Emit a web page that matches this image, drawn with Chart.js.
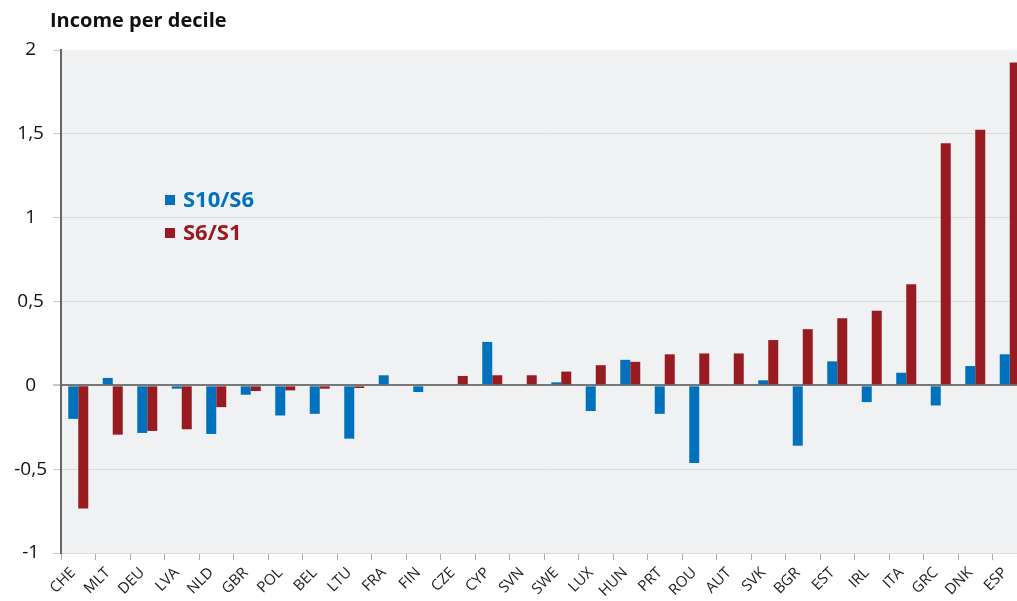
<!DOCTYPE html>
<html lang="en">
<head>
    <meta charset="UTF-8">
    <title>Income per decile</title>
    <script src="https://cdn.jsdelivr.net/npm/chart.js"></script>
    <style>
        html, body { margin: 0; padding: 0; background: #fff; overflow: hidden; width: 1017px; height: 601px; }
        .title {
            position: absolute; left: 50px; top: 6px;
            font: bold 20px "Open Sans", sans-serif; color: #111;
        }
        .chart-container { position: absolute; left: 0; top: 0; width: 1030px; height: 601px; }
    </style>
</head>
<body>
    <div class="chart-container"><canvas id="chart"></canvas></div>
    <div class="title">Income per decile</div>

    <script>
        const countries = ['CHE', 'MLT', 'DEU', 'LVA', 'NLD', 'GBR', 'POL', 'BEL', 'LTU', 'FRA', 'FIN', 'CZE', 'CYP', 'SVN',
            'SWE', 'LUX', 'HUN', 'PRT', 'ROU', 'AUT', 'SVK', 'BGR', 'EST', 'IRL', 'ITA', 'GRC', 'DNK', 'ESP'];
        const s10s6 = [-0.20, 0.044, -0.284, -0.02, -0.29, -0.056, -0.18, -0.17, -0.318, 0.06, -0.04, 0, 0.259, 0,
            0.018, -0.153, 0.152, -0.17, -0.463, 0, 0.03, -0.36, 0.143, -0.10, 0.075, -0.12, 0.115, 0.185];
        const s6s1 = [-0.735, -0.294, -0.272, -0.262, -0.13, -0.034, -0.03, -0.02, -0.016, 0, 0, 0.056, 0.06, 0.06,
            0.082, 0.12, 0.14, 0.185, 0.19, 0.19, 0.27, 0.335, 0.40, 0.445, 0.603, 1.444, 1.524, 1.926];
        const seriesNames = ['S10/S6', 'S6/S1'];

        const BLUE = '#0071bc';
        const RED = '#981b22';

        // grey plot background + legend inside the plot
        const plotDecor = {
            id: 'plotDecor',
            beforeDraw: (chart) => {
                const { ctx, chartArea: a } = chart;
                ctx.save();
                ctx.fillStyle = '#f0f1f3';
                ctx.fillRect(a.left, a.top, a.right - a.left, a.bottom - a.top);
                ctx.restore();
            },
            afterDraw: (chart) => {
                const { ctx, chartArea: a } = chart;
                ctx.save();
                ctx.font = 'bold 22px "Open Sans", sans-serif';
                ctx.textBaseline = 'middle';
                chart.data.datasets.forEach((ds, i) => {
                    const y = 200 + i * 33;
                    ctx.fillStyle = ds.backgroundColor;
                    ctx.fillRect(a.left + 104, y - 5, 10, 10);
                    ctx.fillText(ds.label, a.left + 122, y + 1);
                });
                ctx.restore();
            }
        };

        new Chart(document.getElementById('chart'), {
            type: 'bar',
            data: {
                labels: countries,
                datasets: [
                    { label: seriesNames[0], data: s10s6, backgroundColor: BLUE },
                    { label: seriesNames[1], data: s6s1, backgroundColor: RED }
                ]
            },
            options: {
                responsive: true,
                maintainAspectRatio: false,
                animation: false,
                layout: { padding: { top: 50, right: 3, left: 0, bottom: 0 } },
                datasets: { bar: { categoryPercentage: 0.58, barPercentage: 1 } },
                plugins: { legend: { display: false }, tooltip: { enabled: false } },
                scales: {
                    x: {
                        grid: { offset: true, drawOnChartArea: false, tickLength: 7, tickColor: '#aaa' },
                        border: { display: false },
                        ticks: {
                            minRotation: 45, maxRotation: 45, padding: 4, labelOffset: -5,
                            color: '#222', font: { family: 'Open Sans', size: 15 }
                        },
                        afterFit: (s) => { s.height = 48; }
                    },
                    y: {
                        min: -1, max: 2,
                        grid: {
                            color: (c) => c.tick.value === 0 ? '#777' : (c.tick.value === 2 ? 'rgba(0,0,0,0)' : '#dadbde'),
                            lineWidth: (c) => c.tick.value === 0 ? 2 : 1,
                            tickColor: '#c8c8c8',
                            tickLength: 8
                        },
                        border: { color: '#666', width: 2 },
                        ticks: {
                            stepSize: 0.5, crossAlign: 'center', padding: 6,
                            color: '#111', font: { family: 'Open Sans', size: 19 },
                            callback: (v) => String(v).replace('.', ',')
                        },
                        afterFit: (s) => { s.width = 61; }
                    }
                }
            },
            plugins: [plotDecor]
        });
    </script>
</body>
</html>
